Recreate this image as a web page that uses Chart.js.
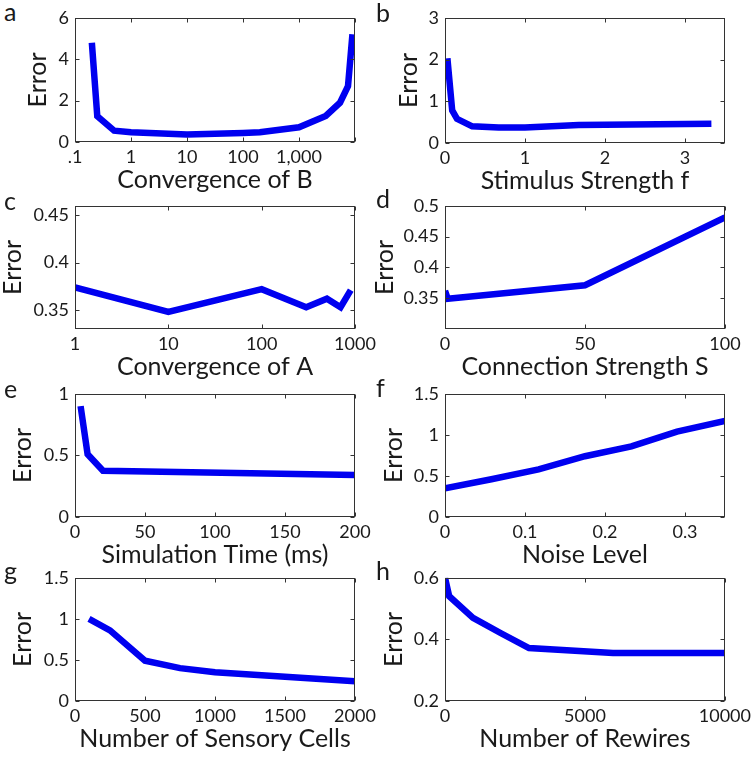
<!DOCTYPE html>
<html>
<head>
<meta charset="utf-8">
<script src="https://cdn.jsdelivr.net/npm/chart.js@4.4.1/dist/chart.umd.min.js"></script>
<style>
  html, body { margin: 0; padding: 0; background: #fff; }
  #fig { position: relative; width: 754px; height: 759px; overflow: hidden; }
  #fig canvas { position: absolute; }
  .lab { position: absolute; font: 25px/25px Lato, sans-serif; color: #1a1a1a; }
</style>
</head>
<body>
<div id="fig"></div>
<script>
// a: Convergence of B (log x)
const aX = [0.2, 0.25, 0.5, 1, 10, 100, 200, 1000, 3000, 5400, 7500, 9000];
const aY = [4.8, 1.25, 0.55, 0.47, 0.36, 0.44, 0.47, 0.71, 1.26, 1.9, 2.7, 5.2];
const aXTicks = [0.1, 1, 10, 100, 1000, 10000];
const aXLabels = ['.1', '1', '10', '100', '1,000', ''];
const aYTicks = [0, 2, 4, 6];
const aYLabels = ['0', '2', '4', '6'];

// b: Stimulus Strength f
const bX = [0.03, 0.09, 0.15, 0.34, 0.67, 1.0, 1.67, 3.33];
const bY = [2.03, 0.78, 0.58, 0.4, 0.37, 0.37, 0.43, 0.46];
const bXTicks = [0, 1, 2, 3];
const bXLabels = ['0', '1', '2', '3'];
const bYTicks = [0, 1, 2, 3];
const bYLabels = ['0', '1', '2', '3'];

// c: Convergence of A (log x)
const cX = [1, 10, 100, 300, 500, 700, 900];
const cY = [0.374, 0.348, 0.372, 0.353, 0.362, 0.353, 0.371];
const cXTicks = [1, 10, 100, 1000];
const cXLabels = ['1', '10', '100', '1000'];
const cYTicks = [0.35, 0.4, 0.45];
const cYLabels = ['0.35', '0.4', '0.45'];

// d: Connection Strength S
const dX = [0, 1, 50, 100];
const dY = [0.362, 0.349, 0.371, 0.481];
const dXTicks = [0, 50, 100];
const dXLabels = ['0', '50', '100'];
const dYTicks = [0.35, 0.4, 0.45, 0.5];
const dYLabels = ['0.35', '0.4', '0.45', '0.5'];

// e: Simulation Time (ms)
const eX = [4, 9, 20, 200];
const eY = [0.9, 0.51, 0.375, 0.34];
const eXTicks = [0, 50, 100, 150, 200];
const eXLabels = ['0', '50', '100', '150', '200'];
const eYTicks = [0, 0.5, 1];
const eYLabels = ['0', '0.5', '1'];

// f: Noise Level
const fX = [0, 0.058, 0.117, 0.175, 0.233, 0.29, 0.35];
const fY = [0.35, 0.46, 0.58, 0.74, 0.86, 1.04, 1.17];
const fXTicks = [0, 0.1, 0.2, 0.3];
const fXLabels = ['0', '0.1', '0.2', '0.3'];
const fYTicks = [0, 0.5, 1, 1.5];
const fYLabels = ['0', '0.5', '1', '1.5'];

// g: Number of Sensory Cells
const gX = [100, 250, 500, 750, 1000, 1500, 2000];
const gY = [1.0, 0.86, 0.49, 0.4, 0.35, 0.295, 0.24];
const gXTicks = [0, 500, 1000, 1500, 2000];
const gXLabels = ['0', '500', '1000', '1500', '2000'];
const gYTicks = [0, 0.5, 1, 1.5];
const gYLabels = ['0', '0.5', '1', '1.5'];

// h: Number of Rewires
const hX = [0, 150, 1000, 2000, 3000, 6000, 10000];
const hY = [0.6, 0.54, 0.47, 0.42, 0.372, 0.356, 0.356];
const hXTicks = [0, 5000, 10000];
const hXLabels = ['0', '5000', '10000'];
const hYTicks = [0.2, 0.4, 0.6];
const hYLabels = ['0.2', '0.4', '0.6'];

const FONT = 'Lato, sans-serif';
const TEXT = '#1a1a1a';
const LINE = '#0000f0';

// frame with inward ticks, MATLAB style
const framePlugin = {
  id: 'frame',
  afterDatasetsDraw(chart) {
    const { ctx, chartArea: { left, right, top, bottom }, scales: { x, y } } = chart;
    const L = Math.round(left) + 0.5, R = Math.round(right) - 0.5;
    const T = Math.round(top) + 0.5, B = Math.round(bottom) - 0.5;
    const tl = 4;
    ctx.save();
    ctx.strokeStyle = '#333';
    ctx.lineWidth = 1;
    ctx.strokeRect(L, T, R - L, B - T);
    ctx.beginPath();
    x.ticks.forEach(t => {
      const p = Math.round(x.getPixelForValue(t.value)) + 0.5;
      ctx.moveTo(p, B); ctx.lineTo(p, B - tl);
      ctx.moveTo(p, T); ctx.lineTo(p, T + tl);
    });
    y.ticks.forEach(t => {
      const p = Math.round(y.getPixelForValue(t.value)) + 0.5;
      ctx.moveTo(L, p); ctx.lineTo(L + tl, p);
      ctx.moveTo(R, p); ctx.lineTo(R - tl, p);
    });
    ctx.stroke();
    ctx.restore();
  }
};

const panels = [
  { id: 'a', xs: aX, ys: aY, xt: aXTicks, xl: aXLabels, yt: aYTicks, yl: aYLabels, xType: 'logarithmic', xMin: 0.1, xMax: 10000, yMin: 0, yMax: 6,
    xTitle: 'Convergence of B', L: 75, R: 355, T: 15, B: 142, ylabX: 37.5, labX: 4, labY: -1 },
  { id: 'b', xs: bX, ys: bY, xt: bXTicks, xl: bXLabels, yt: bYTicks, yl: bYLabels, xType: 'linear', xMin: 0, xMax: 3.5, yMin: 0, yMax: 3,
    xTitle: 'Stimulus Strength f', L: 445, R: 725, T: 15, B: 143, ylabX: 408, labX: 376, labY: 0 },
  { id: 'c', xs: cX, ys: cY, xt: cXTicks, xl: cXLabels, yt: cYTicks, yl: cYLabels, xType: 'logarithmic', xMin: 1, xMax: 1000, yMin: 0.33, yMax: 0.46,
    xTitle: 'Convergence of A', L: 75, R: 355, T: 203, B: 329, ylabX: 12.5, labX: 4, labY: 188 },
  { id: 'd', xs: dX, ys: dY, xt: dXTicks, xl: dXLabels, yt: dYTicks, yl: dYLabels, xType: 'linear', xMin: 0, xMax: 100, yMin: 0.3, yMax: 0.5,
    xTitle: 'Connection Strength S', L: 445, R: 725, T: 203, B: 329, ylabX: 384, labX: 376, labY: 186 },
  { id: 'e', xs: eX, ys: eY, xt: eXTicks, xl: eXLabels, yt: eYTicks, yl: eYLabels, xType: 'linear', xMin: 0, xMax: 200, yMin: 0, yMax: 1,
    xTitle: 'Simulation Time (ms)', L: 75, R: 355, T: 391, B: 517, ylabX: 22, labX: 4, labY: 376 },
  { id: 'f', xs: fX, ys: fY, xt: fXTicks, xl: fXLabels, yt: fYTicks, yl: fYLabels, xType: 'linear', xMin: 0, xMax: 0.35, yMin: 0, yMax: 1.5,
    xTitle: 'Noise Level', L: 445, R: 725, T: 391, B: 517, ylabX: 393, labX: 376, labY: 375 },
  { id: 'g', xs: gX, ys: gY, xt: gXTicks, xl: gXLabels, yt: gYTicks, yl: gYLabels, xType: 'linear', xMin: 0, xMax: 2000, yMin: 0, yMax: 1.5,
    xTitle: 'Number of Sensory Cells', L: 75, R: 355, T: 575, B: 701, ylabX: 22, labX: 4, labY: 558 },
  { id: 'h', xs: hX, ys: hY, xt: hXTicks, xl: hXLabels, yt: hYTicks, yl: hYLabels, xType: 'linear', xMin: 0, xMax: 10000, yMin: 0.2, yMax: 0.6,
    xTitle: 'Number of Rewires', L: 445, R: 725, T: 575, B: 701, ylabX: 393, labX: 376, labY: 558 }
];

const fig = document.getElementById('fig');
const PAD_TOP = 14, PAD_RIGHT = 30, X_AXIS_H = 50;

panels.forEach(p => {
  const cl = Math.round(p.ylabX - 12.5);
  const ct = p.T - PAD_TOP;
  const w = p.R + PAD_RIGHT - cl;
  const h = PAD_TOP + (p.B - p.T) + X_AXIS_H;
  const c = document.createElement('canvas');
  c.width = w; c.height = h;
  c.style.left = cl + 'px'; c.style.top = ct + 'px';
  c.style.width = w + 'px'; c.style.height = h + 'px';
  fig.appendChild(c);

  const lab = document.createElement('div');
  lab.className = 'lab';
  lab.textContent = p.id;
  lab.style.left = p.labX + 'px';
  lab.style.top = p.labY + 'px';
  fig.appendChild(lab);

  const tickFont = { family: FONT, size: 18, lineHeight: 1.2 };
  const titleFont = { family: FONT, size: 25, lineHeight: 1 };

  new Chart(c, {
    type: 'line',
    data: {
      datasets: [{
        data: p.xs.map((v, i) => ({ x: v, y: p.ys[i] })),
        borderColor: LINE,
        borderWidth: 6.5,
        pointRadius: 0,
        tension: 0,
        fill: false,
        clip: 0
      }]
    },
    options: {
      responsive: false,
      animation: false,
      events: [],
      layout: { padding: { top: PAD_TOP, right: PAD_RIGHT, left: 0, bottom: 0 } },
      plugins: { legend: { display: false }, tooltip: { enabled: false } },
      scales: {
        x: {
          type: p.xType, min: p.xMin, max: p.xMax,
          afterBuildTicks: s => { s.ticks = p.xt.map(v => ({ value: v })); },
          afterFit: s => { s.height = X_AXIS_H; },
          grid: { display: false, drawTicks: false },
          border: { display: false },
          ticks: { autoSkip: false, maxRotation: 0, padding: 4, color: TEXT, font: tickFont, callback: (v, i) => p.xl[i] },
          title: { display: true, text: p.xTitle, padding: 0, color: TEXT, font: titleFont }
        },
        y: {
          type: 'linear', min: p.yMin, max: p.yMax,
          afterBuildTicks: s => { s.ticks = p.yt.map(v => ({ value: v })); },
          afterFit: s => { s.width = p.L - cl; },
          grid: { display: false, drawTicks: false },
          border: { display: false },
          ticks: { autoSkip: false, padding: 6, color: TEXT, font: tickFont, callback: (v, i) => p.yl[i] },
          title: { display: true, text: 'Error', padding: 0, color: TEXT, font: titleFont }
        }
      }
    },
    plugins: [framePlugin]
  });
});
</script>
</body>
</html>
